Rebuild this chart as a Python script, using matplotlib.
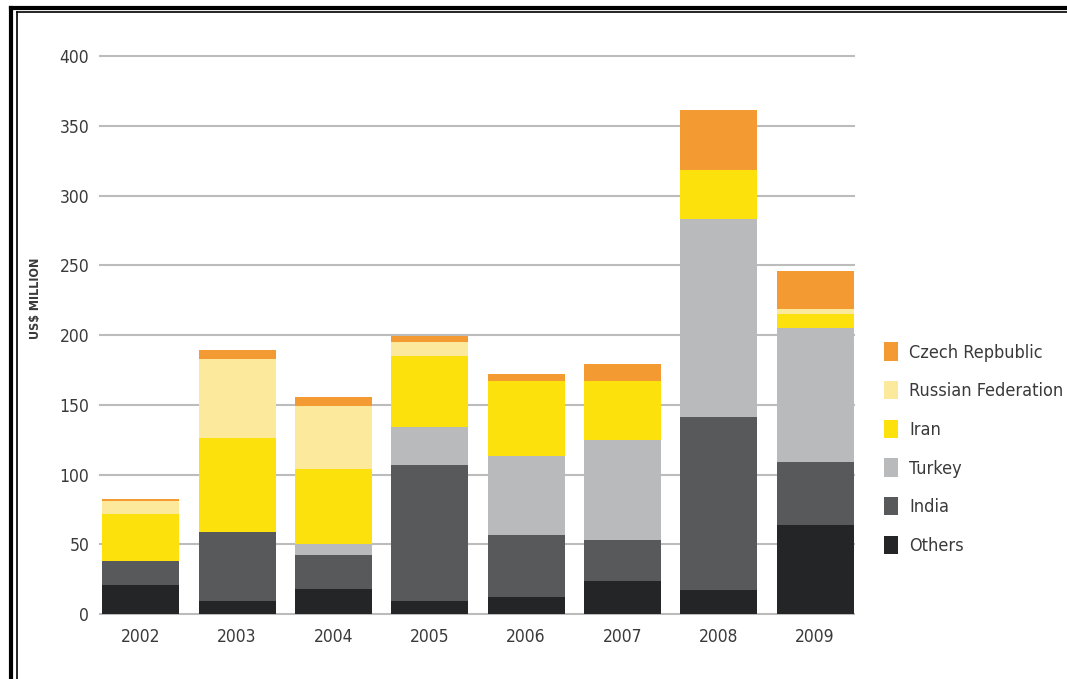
import matplotlib.pyplot as plt
import numpy as np
from matplotlib.lines import Line2D
from matplotlib.patches import Patch

years = ["2002", "2003", "2004", "2005", "2006", "2007", "2008", "2009"]

# US$ million per destination, bottom of the stack first
others = [21, 9, 18, 9, 12, 24, 17, 64]
india = [17, 50, 24, 98, 45, 29, 124, 45]
turkey = [0, 0, 8, 27, 56, 72, 142, 96]
iran = [34, 67, 54, 51, 54, 42, 35, 10]
russia = [9, 57, 45, 10, 0, 0, 0, 4]
czech = [1.5, 6.5, 6.6, 4, 5, 12, 43, 27]

series = [
    ("Others", others, "#242526"),
    ("India", india, "#58595b"),
    ("Turkey", turkey, "#b9babc"),
    ("Iran", iran, "#fde10c"),
    ("Russian Federation", russia, "#fde99c"),
    ("Czech Repbublic", czech, "#f49a32"),
]

yticks = [0, 50, 100, 150, 200, 250, 300, 350, 400]

plt.rcParams["font.family"] = ["DejaVu Sans"]
plt.rcParams["font.stretch"] = "condensed"

fig = plt.figure(figsize=(10.67, 6.79), dpi=100)
ax = fig.add_axes([0.094, 0.0957, 0.706, 0.8218])

x = np.arange(len(years))
bottom = np.zeros(len(years))
for name, vals, color in series:
    vals = np.array(vals, dtype=float)
    ax.bar(x, vals, width=0.8, bottom=bottom, color=color, zorder=3, linewidth=0)
    bottom += vals

ax.set_xlim(-0.42, 7.4)
ax.set_ylim(0, 400)
ax.set_yticks(yticks)
ax.set_xticks(x, years)
ax.yaxis.grid(True, color="#bcbcbc", linewidth=1.5, zorder=0)
for gl in ax.get_ygridlines():
    gl.set_clip_on(False)
ax.set_axisbelow(True)
for s in ax.spines.values():
    s.set_visible(False)
ax.tick_params(axis="both", length=0, labelsize=12.5, colors="#3a3a3a")
ax.tick_params(axis="y", pad=8)
ax.tick_params(axis="x", pad=10)

fig.text(0.033, 0.56, "US$ MILLION", rotation=90, ha="center", va="center",
         fontsize=9, fontweight="bold", color="#3a3a3a")

handles = [Patch(facecolor=c, edgecolor="none") for _, _, c in series[::-1]]
labels = [n for n, _, _ in series[::-1]]
fig.legend(handles, labels, loc="upper left", bbox_to_anchor=(0.813, 0.52),
           frameon=False, fontsize=13, handlelength=0.8, handleheight=1.2,
           handletextpad=0.6, labelspacing=1.07, labelcolor="#3a3a3a")

# double frame line round the page
for xs, ys, lw in [
    ([0.0105, 0.0105], [0.0, 0.988], 3.0),
    ([0.0155, 0.0155], [0.0, 0.982], 1.2),
    ([0.0105, 1.0], [0.988, 0.988], 3.0),
    ([0.0155, 1.0], [0.982, 0.982], 1.2),
]:
    fig.add_artist(Line2D(xs, ys, transform=fig.transFigure, color="black", linewidth=lw))

fig.savefig("out.png", dpi=100)
